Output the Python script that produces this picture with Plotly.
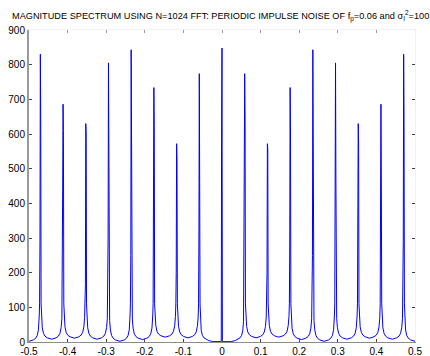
import plotly.graph_objects as go

# ---- data ----
peak_freq = [-0.4706, -0.4118, -0.3529, -0.2941, -0.2353, -0.1765, -0.1176, -0.0588, 0.0,
             0.0588, 0.1176, 0.1765, 0.2353, 0.2941, 0.3529, 0.4118, 0.4706]
peak_mag = [830, 686, 630, 805, 843, 734, 572, 774, 848, 774, 572, 734, 843, 805, 630, 686, 830]
side1_mag = [650, 610, 600, 460, 645, 625, 524, 458, 635, 640, 556, 600, 640, 470, 582, 450, 650]
side2_mag = [289, 438, 165, 300, 250, 280, 200, 300, 1, 300, 200, 280, 250, 300, 490, 430, 289]
base_mag = [110, 75]                      # bins 2 and 3 away from each peak
# valley floors between consecutive peaks (left to right), plus the two edges
gap_floor = [8, 11, 8, 2, 7, 14, 12, None, None, 12, 14, 7, 2, 8, 11, 8]
edge_floor = 2
# valley shape read near a peak: offset from the peak -> rise above the floor
valley_off = [0.003, 0.005, 0.008, 0.012, 0.018]
valley_rise = [60, 33, 17, 9, 4]
# valley next to the DC peak: offset from the +/-0.0588 peak -> magnitude
center_off = [0.003, 0.005, 0.008, 0.012, 0.018, 0.025, 0.035]
center_mag = [60, 33, 19, 12, 8, 4, 1]

x_ticks = [-0.5, -0.4, -0.3, -0.2, -0.1, 0, 0.1, 0.2, 0.3, 0.4, 0.5]
x_ticktext = ["-0.5", "-0.4", "-0.3", "-0.2", "-0.1", "0", "0.1", "0.2", "0.3", "0.4", "0.5"]
y_ticks = [0, 100, 200, 300, 400, 500, 600, 700, 800, 900]

# ---- assemble the spectrum trace from the read values ----
d = 1 / 1024
pts = []
n = len(peak_freq)
c = peak_freq.index(0.0)


def cluster(i):
    f = peak_freq[i]
    if i == c:
        pts.extend([(f - 2 * d, 1), (f - d, side1_mag[i]), (f, peak_mag[i]), (f + d, side2_mag[i]), (f + 2 * d, 1)])
    else:
        pts.extend([(f - 3 * d, base_mag[1]), (f - 2 * d, base_mag[0]), (f - d, side2_mag[i]), (f, peak_mag[i]),
                    (f + d, side1_mag[i]), (f + 2 * d, base_mag[0]), (f + 3 * d, base_mag[1])])


# left edge
pts.append((-0.5, edge_floor))
for o, r in zip(reversed(valley_off), reversed(valley_rise)):
    pts.append((peak_freq[0] - o, edge_floor + r))
for i in range(n):
    cluster(i)
    if i < n - 1:
        fa, fb = peak_freq[i], peak_freq[i + 1]
        g = gap_floor[i]
        if i + 1 == c:
            for o, m in zip(center_off, center_mag):
                pts.append((fa + o, m))
        elif i == c:
            for o, m in zip(reversed(center_off), reversed(center_mag)):
                pts.append((fb - o, m))
        else:
            for o, r in zip(valley_off, valley_rise):
                pts.append((fa + o, g + r))
            pts.append(((fa + fb) / 2, g))
            for o, r in zip(reversed(valley_off), reversed(valley_rise)):
                pts.append((fb - o, g + r))
for o, r in zip(valley_off, valley_rise):
    pts.append((peak_freq[-1] + o, edge_floor + r))
pts.append((0.5, edge_floor))

pts.sort(key=lambda p: p[0])
freq = [p[0] for p in pts]
mag = [p[1] for p in pts]

fig = go.Figure()
fig.add_trace(go.Scatter(x=freq, y=mag, mode="lines",
                         line=dict(color="#0000ff", width=1), showlegend=False))
# empty trace to create mirrored top/right axes
fig.add_trace(go.Scatter(x=[], y=[], xaxis="x2", yaxis="y2", showlegend=False))

font = dict(family="Liberation Sans, Arial, sans-serif", size=10, color="#000000")
fig.update_layout(
    width=430, height=356,
    margin=dict(l=29, r=15, t=30, b=14, autoexpand=False),
    paper_bgcolor="white", plot_bgcolor="white",
    font=font,
    title=dict(
        text="MAGNITUDE SPECTRUM USING N=1024 FFT: PERIODIC IMPULSE NOISE OF f<sub>p</sub>=0.06 and σ<sub>I</sub><sup>2</sup>=100",
        x=12 / 430, xref="container", xanchor="left",
        y=1 - 16 / 356, yref="container", yanchor="middle",
        font=dict(family="Liberation Sans, Arial, sans-serif", size=9.2, color="#000000"),
    ),
    xaxis=dict(range=[-0.5, 0.5], tickvals=x_ticks, ticktext=x_ticktext, automargin=False,
               showgrid=False, zeroline=False, showline=True, linecolor="#8c8c8c", linewidth=1,
               ticks="inside", ticklen=3, tickcolor="#444444", tickfont=font),
    yaxis=dict(range=[0, 900], tickvals=y_ticks, automargin=False,
               showgrid=False, zeroline=False, showline=True, linecolor="#9a9a9a", linewidth=2,
               ticks="inside", ticklen=3, tickcolor="#444444", tickfont=font),
    xaxis2=dict(range=[-0.5, 0.5], tickvals=x_ticks, overlaying="x", side="top", automargin=False,
                showticklabels=False, showgrid=False, zeroline=False, showline=True,
                linecolor="#f0f0f0", ticks="inside", ticklen=3, tickcolor="#999999"),
    yaxis2=dict(range=[0, 900], tickvals=y_ticks, overlaying="y", side="right", automargin=False,
                showticklabels=False, showgrid=False, zeroline=False, showline=True,
                linecolor="#f0f0f0", ticks="inside", ticklen=3, tickcolor="#444444"),
)

fig.write_html("out.html")
